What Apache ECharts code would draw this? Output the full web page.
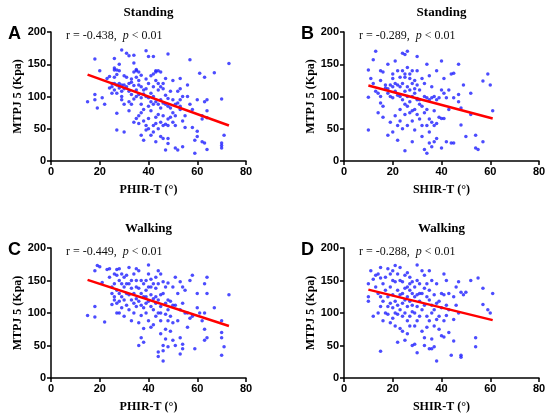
<!DOCTYPE html>
<html>
<head>
<meta charset="utf-8">
<script src="https://cdn.jsdelivr.net/npm/echarts@6/dist/echarts.min.js"></script>
<style>
    html, body { margin: 0; padding: 0; background: #fff; }
    #chart { width: 550px; height: 418px; }
</style>
</head>
<body>
<div id="chart"></div>
<script>
// 四个散点图：PHIR-T / SHIR-T 与 MTPJ 5 压力（站立、行走）
var xTicks = [0, 20, 40, 60, 80];
var yTicks = [0, 50, 100, 150, 200];

// A: Standing, PHIR-T
var standPhir = [
    [15,92],[18,158],[18,103],[18,95],[19,82],[20,140],[21,98],[22,88],[23,128],[24,131],[24,113],[25,120],[25,105],[25,115],
    [26,159],[26,144],[26,141],[26,120],[26,110],[27,141],[27,118],[27,48],[27,74],[27,105],[28,140],[28,150],[28,113],[28,120],
    [29,172],[29,108],[29,118],[29,100],[29,95],[30,45],[30,132],[30,118],[30,88],[30,112],[26,130],[27,134],
    [31,167],[31,130],[31,115],[32,163],[32,120],[32,78],[32,108],[33,103],[33,122],[33,127],[34,152],[34,164],[34,138],[34,117],
    [34,96],[34,60],[35,142],[35,130],[35,110],[35,100],[35,66],[35,140],[33,88],[32,92],
    [36,138],[36,125],[36,118],[36,103],[36,70],[37,133],[37,115],[37,98],[37,40],[37,75],[38,110],[38,104],[38,32],[38,80],[38,62],
    [39,171],[39,127],[39,112],[39,100],[39,55],[39,48],[40,162],[40,120],[40,98],[40,85],[40,50],[40,66],[36,58],[37,88],
    [41,105],[41,40],[41,132],[41,78],[42,162],[42,135],[42,115],[42,100],[42,55],[42,45],[43,138],[43,140],[43,125],[43,92],
    [43,68],[43,58],[43,30],[44,140],[44,120],[44,110],[44,88],[44,72],[44,50],[45,138],[45,115],[45,95],[45,82],[45,60],[45,38],[41,92],[42,88],
    [46,112],[46,120],[46,70],[46,55],[46,35],[47,102],[47,88],[47,57],[47,17],[47,128],[48,166],[48,97],[48,85],[48,65],[48,35],
    [48,27],[48,55],[49,82],[49,68],[50,125],[50,95],[50,75],[50,60],[49,108],[46,90],
    [51,88],[51,70],[51,55],[52,90],[52,17],[52,108],[53,128],[53,112],[53,95],[53,85],[53,80],[54,22],[54,62],[54,100],[55,70],[55,52],[51,20],
    [56,118],[56,100],[57,157],[57,88],[58,52],[58,80],[59,12],[59,32],[60,95],[60,46],[60,38],[61,136],[62,70],[62,30],[63,130],
    [63,92],[63,28],[64,95],[64,78],[64,67],[64,18],[62,65],
    [67,137],[70,96],[70,28],[70,24],[70,20],[71,40],[73,151]
];
// B: Standing, SHIR-T
var standShir = [
    [10,48],[10,99],[10,141],[11,128],[12,120],[13,170],[12,157],[13,108],[14,75],[14,105],[15,140],[15,125],[15,100],[15,90],
    [16,138],[16,85],[16,68],[17,118],[17,113],[18,150],[18,112],[18,40],[18,105],[19,100],[19,60],[19,118],[20,45],[20,135],
    [20,128],[20,115],[20,98],[21,120],[21,108],[21,70],[21,155],[22,140],[22,118],[22,102],[22,55],[22,32],[23,130],[23,115],
    [23,100],[23,80],[23,62],[24,167],[24,140],[24,120],[24,95],[24,50],[25,165],[25,130],[25,108],[25,88],[25,72],[25,16],
    [26,170],[26,145],[26,115],[26,100],[26,55],[27,135],[27,110],[27,75],[27,92],[28,120],[28,100],[28,62],[28,30],[28,140],
    [29,125],[29,105],[29,80],[29,48],[30,162],[30,140],[30,118],[30,97],[30,72],[30,95],[31,95],[31,65],[31,110],[32,128],
    [32,85],[32,55],[32,38],[33,100],[33,75],[33,18],[34,150],[34,98],[34,80],[34,12],[34,55],[35,132],[35,95],[35,65],[35,28],
    [35,45],[36,115],[36,98],[36,60],[36,22],[37,100],[37,78],[37,55],[37,30],[38,140],[38,95],[38,58],[38,35],[39,98],[39,68],
    [40,155],[40,66],[40,110],[40,20],[41,128],[41,105],[41,66],[42,98],[42,30],[43,110],[43,80],[44,135],[44,28],[45,136],
    [45,98],[45,28],[47,150],[47,103],[47,92],[48,82],[48,56],[49,118],[50,38],[52,105],[52,72],[54,40],[54,20],[55,18],
    [57,124],[57,30],[59,135],[60,118],[61,78],[25,135],[27,128],[29,112],[31,88],[33,120],[26,85],[28,78]
];
// C: Walking, PHIR-T
var walkPhir = [
    [15,96],[18,110],[18,94],[18,165],[19,173],[20,171],[21,147],[22,86],[23,167],[24,168],[24,155],[25,140],[25,113],[25,130],
    [26,160],[26,145],[26,125],[26,120],[27,167],[27,158],[27,135],[27,115],[27,100],[28,168],[28,150],[28,130],[28,118],[28,100],
    [29,160],[29,145],[29,125],[29,108],[30,155],[30,140],[30,120],[30,95],[31,158],[31,130],[31,112],[32,145],[32,128],[32,105],
    [32,170],[33,150],[33,138],[33,88],[34,160],[34,130],[34,115],[34,100],[35,168],[35,150],[35,122],[35,110],[36,165],[36,138],
    [36,118],[36,50],[36,85],[37,150],[37,130],[37,112],[37,96],[37,62],[38,145],[38,125],[38,108],[38,55],[38,76],[39,150],
    [39,135],[39,115],[39,100],[40,174],[40,160],[40,140],[40,118],[40,88],[41,152],[41,128],[41,110],[41,78],[42,145],[42,122],
    [42,105],[42,82],[43,155],[43,138],[43,115],[43,95],[43,125],[44,165],[44,145],[44,120],[44,100],[44,40],[44,33],[45,160],
    [45,128],[45,110],[45,88],[45,68],[45,100],[46,148],[46,130],[46,50],[46,26],[46,42],[47,140],[47,115],[47,98],[47,75],
    [47,60],[48,146],[48,120],[48,105],[48,88],[48,48],[49,118],[49,95],[49,72],[50,140],[50,112],[50,85],[50,58],[51,155],
    [51,112],[51,50],[52,130],[52,88],[53,148],[53,105],[53,62],[53,37],[54,140],[54,115],[54,52],[54,45],[55,135],[55,100],
    [56,100],[56,78],[57,150],[57,92],[58,158],[58,95],[59,45],[60,130],[60,108],[61,100],[62,88],[63,145],[63,100],[63,75],
    [63,58],[64,155],[64,130],[64,62],[67,108],[70,88],[70,70],[70,62],[70,35],[71,48],[73,128],[31,145],[33,120],[35,140],
    [39,125],[41,140]
];
// D: Walking, SHIR-T
var walkShir = [
    [10,145],[10,125],[10,118],[11,165],[12,95],[12,152],[13,158],[13,140],[14,160],[14,130],[14,100],[15,170],[15,154],[15,125],
    [15,110],[15,41],[16,145],[16,118],[16,88],[17,155],[17,135],[17,100],[18,168],[18,125],[18,110],[18,98],[19,160],[19,140],
    [19,115],[19,85],[20,165],[20,150],[20,128],[20,108],[20,92],[21,173],[21,148],[21,118],[21,100],[21,80],[22,160],[22,135],
    [22,112],[22,55],[22,98],[23,170],[23,150],[23,128],[23,105],[23,76],[24,148],[24,115],[24,95],[24,72],[25,158],[25,138],
    [25,120],[25,100],[25,58],[26,162],[26,140],[26,125],[26,110],[26,88],[26,68],[27,155],[27,135],[27,118],[27,95],[27,80],
    [28,148],[28,130],[28,112],[28,50],[28,102],[29,140],[29,125],[29,100],[29,80],[29,52],[30,174],[30,150],[30,128],[30,110],
    [30,88],[30,39],[31,145],[31,118],[31,95],[32,165],[32,130],[32,105],[32,72],[33,158],[33,138],[33,112],[33,62],[33,50],
    [34,145],[34,125],[34,95],[34,78],[35,165],[35,120],[35,88],[35,45],[36,150],[36,112],[36,100],[36,60],[36,45],[37,128],
    [37,105],[37,80],[37,48],[38,145],[38,115],[38,90],[38,26],[39,118],[39,95],[39,75],[40,130],[40,108],[40,65],[41,160],
    [41,128],[41,88],[41,63],[42,150],[42,112],[42,96],[43,130],[43,105],[43,70],[44,35],[45,125],[45,90],[45,57],[46,140],
    [46,112],[47,148],[47,100],[48,35],[48,132],[48,32],[49,128],[50,132],[52,150],[54,62],[54,48],[55,154],[57,138],[57,113],
    [59,105],[60,100],[61,130],[24,130],[27,145],[31,130],[35,135]
];

// 回归线端点
var fitStandPhir = [[15,134],[73,55]];
var fitStandShir = [[10,117],[61,66]];
var fitWalkPhir = [[15,151],[73,80]];
var fitWalkShir = [[10,136],[61,89]];

var panelLetters = ['A', 'B', 'C', 'D'];
var panelTitles = ['Standing', 'Standing', 'Walking', 'Walking'];
var rValues = ['-0.438', '-0.289', '-0.449', '-0.288'];
var xNames = ['PHIR-T (°)', 'SHIR-T (°)', 'PHIR-T (°)', 'SHIR-T (°)'];
var yName = 'MTPJ 5 (Kpa)';

var scatterSets = [standPhir, standShir, walkPhir, walkShir];
var fitSets = [fitStandPhir, fitStandShir, fitWalkPhir, fitWalkShir];

var gridPos = [
    { left: 51, top: 32, width: 195, height: 129 },
    { left: 344, top: 32, width: 195, height: 129 },
    { left: 51, top: 248, width: 195, height: 130 },
    { left: 344, top: 248, width: 195, height: 130 }
];

var sans = 'Liberation Sans, Arial, sans-serif';
var serif = 'Liberation Serif, Times New Roman, serif';

var grids = [], xAxes = [], yAxes = [], series = [], titles = [];

for (var i = 0; i < 4; i++) {
    var g = gridPos[i];
    grids.push(g);
    var axisCommon = {
        gridIndex: i,
        type: 'value',
        min: 0,
        nameLocation: 'middle',
        nameTextStyle: { fontFamily: serif, fontWeight: 'bold', fontSize: 12, color: '#000' },
        axisLine: { show: true, lineStyle: { color: '#000', width: 1.5 } },
        axisTick: { show: true, inside: false, length: 4, lineStyle: { color: '#000', width: 1.5 } },
        axisLabel: { fontFamily: sans, fontWeight: 'bold', fontSize: 11, color: '#000', margin: 5 },
        splitLine: { show: false }
    };
    xAxes.push(Object.assign({}, axisCommon, {
        max: xTicks[xTicks.length - 1],
        interval: xTicks[1] - xTicks[0],
        name: xNames[i],
        nameGap: 23
    }));
    yAxes.push(Object.assign({}, axisCommon, {
        max: yTicks[yTicks.length - 1],
        interval: yTicks[1] - yTicks[0],
        name: yName,
        nameGap: 27
    }));
    series.push({
        type: 'scatter',
        xAxisIndex: i,
        yAxisIndex: i,
        symbol: 'circle',
        symbolSize: 3.5,
        itemStyle: { color: '#1f1fff' },
        animation: false,
        data: scatterSets[i]
    });
    series.push({
        type: 'line',
        xAxisIndex: i,
        yAxisIndex: i,
        symbol: 'none',
        lineStyle: { color: '#ff0000', width: 2.5 },
        animation: false,
        data: fitSets[i]
    });

    var cx = g.left + g.width / 2;
    titles.push({
        text: panelTitles[i],
        left: cx,
        top: g.top - 26,
        padding: 0,
        textAlign: 'center',
        textStyle: { fontFamily: serif, fontWeight: 'bold', fontSize: 13, color: '#000' }
    });
    titles.push({
        text: panelLetters[i],
        left: g.left - 43,
        top: g.top - 7,
        padding: 0,
        textStyle: { fontFamily: sans, fontWeight: 'bold', fontSize: 18, color: '#000' }
    });
    titles.push({
        text: '{n|r = ' + rValues[i] + ',  }{p|p}{n| < 0.01}',
        left: g.left + 15,
        top: g.top - 2,
        padding: 0,
        textStyle: {
            fontWeight: 'normal',
            rich: {
                n: { fontFamily: serif, fontSize: 12, fontWeight: 'normal', color: '#111' },
                p: { fontFamily: serif, fontSize: 12, fontWeight: 'normal', fontStyle: 'italic', color: '#111' }
            }
        }
    });
}

var myChart = echarts.init(document.getElementById('chart'));
myChart.setOption({
    backgroundColor: '#fff',
    title: titles,
    grid: grids,
    xAxis: xAxes,
    yAxis: yAxes,
    series: series
});
</script>
</body>
</html>
